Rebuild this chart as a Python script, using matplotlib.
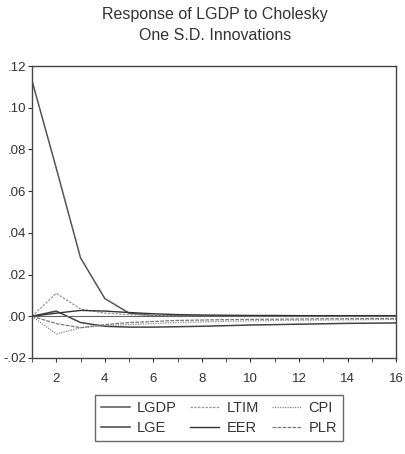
import numpy as np
import matplotlib.pyplot as plt
from matplotlib.ticker import FuncFormatter, MultipleLocator

plt.rcParams['font.family'] = ['Liberation Sans', 'DejaVu Sans']

# periods and responses
periods = list(range(1, 17))
lgdp = [0.113, 0.071, 0.028, 0.0085, 0.0015, 0.0003, 0.0002, 0.0001, 0.0001, 0.0001, 0.0001, 0.0001, 0.0001, 0.0001, 0.0001, 0.0001]
lge = [0.0, 0.0025, -0.003, -0.0048, -0.0052, -0.0052, -0.005, -0.0048, -0.0045, -0.0042, -0.004, -0.0038, -0.0036, -0.0034, -0.0033, -0.0032]
ltim = [0.0, 0.011, 0.0035, 0.0015, 0.0008, 0.0004, 0.0002, 0.0002, 0.0001, 0.0001, 0.0001, 0.0001, 0.0, 0.0, 0.0, 0.0]
eer = [0.0, 0.0015, 0.0028, 0.0025, 0.0018, 0.0012, 0.0008, 0.0006, 0.0005, 0.0004, 0.0004, 0.0003, 0.0003, 0.0003, 0.0003, 0.0003]
cpi = [0.0, -0.0085, -0.0055, -0.0045, -0.004, -0.0035, -0.003, -0.0027, -0.0024, -0.0022, -0.002, -0.0019, -0.0018, -0.0017, -0.0016, -0.0015]
plr = [0.0, -0.0035, -0.0055, -0.004, -0.003, -0.0025, -0.002, -0.0018, -0.0016, -0.0015, -0.0014, -0.0013, -0.0012, -0.0012, -0.0011, -0.0011]

fig = plt.figure(figsize=(4.05, 4.54), dpi=100)
ax = fig.add_axes([0.079, 0.2115, 0.899, 0.643])

ax.plot(periods, lgdp, color='#555555', lw=1.1, label='LGDP')
ax.plot(periods, lge, color='#444444', lw=1.1, label='LGE')
ax.plot(periods, ltim, color='#999999', lw=0.9, ls=(0, (2, 1)), label='LTIM')
ax.plot(periods, eer, color='#333333', lw=1.0, label='EER')
ax.plot(periods, cpi, color='#888888', lw=0.9, ls=(0, (1, 1)), label='CPI')
ax.plot(periods, plr, color='#777777', lw=0.9, ls=(0, (3, 1)), label='PLR')
ax.axhline(0, color='#666666', lw=0.8)

ax.set_xlim(1, 16)
ax.set_ylim(-0.02, 0.12)
ax.xaxis.set_major_locator(MultipleLocator(2))
ax.xaxis.set_minor_locator(MultipleLocator(1))
ax.yaxis.set_major_locator(MultipleLocator(0.02))

def fmt(v, pos):
    s = '%.2f' % v
    return s.replace('0.', '.')

ax.yaxis.set_major_formatter(FuncFormatter(fmt))
ax.tick_params(axis='both', labelsize=9.5, colors='#333333', length=3)
ax.tick_params(axis='x', pad=8)
ax.tick_params(axis='y', pad=1)
ax.tick_params(axis='x', which='minor', length=3, color='#333333')
for sp in ax.spines.values():
    sp.set_color('#444444')
    sp.set_linewidth(1.0)

fig.suptitle('Response of LGDP to Cholesky\nOne S.D. Innovations', fontsize=11.5, color='#333333', x=0.53, y=0.985, linespacing=1.55)

fig.legend(loc='lower center', bbox_to_anchor=(0.54, 0.012), ncol=3, fontsize=10.5,
           frameon=True, fancybox=False, edgecolor='#444444', handlelength=2.0,
           columnspacing=0.9, handletextpad=0.5, borderpad=0.4, labelspacing=0.45,
           labelcolor='#333333')

fig.savefig('out.png', dpi=100, facecolor='white')
